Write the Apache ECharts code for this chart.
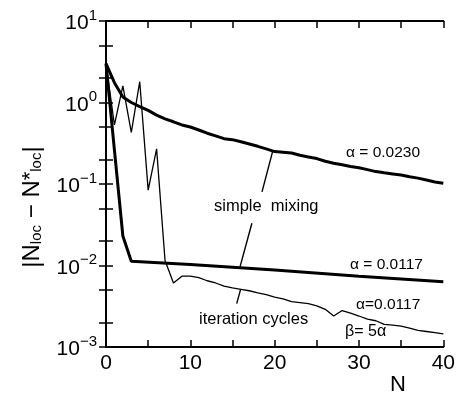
<!DOCTYPE html>
<html>
<head>
<meta charset="utf-8">
<script src="https://cdn.jsdelivr.net/npm/echarts@6/dist/echarts.min.js"></script>
<style>
html, body { margin: 0; padding: 0; background: #fff; }
#main { width: 458px; height: 395px; }
</style>
</head>
<body>
<div id="main"></div>
<script>
// iteration number
const N = [0, 1, 2, 3, 4, 5, 6, 7, 8, 9, 10, 11, 12, 13, 14, 15, 16, 17, 18, 19, 20,
    21, 22, 23, 24, 25, 26, 27, 28, 29, 30, 31, 32, 33, 34, 35, 36, 37, 38, 39, 40];
// simple mixing, alpha = 0.0230
const mixing0230 = [3.0, 1.75, 1.17, 1.0, 0.89, 0.80, 0.70, 0.63, 0.58, 0.53, 0.50,
    0.46, 0.42, 0.39, 0.36, 0.35, 0.33, 0.31, 0.29, 0.27, 0.25,
    0.245, 0.24, 0.225, 0.215, 0.205, 0.19, 0.18, 0.172, 0.164, 0.158,
    0.15, 0.142, 0.137, 0.133, 0.129, 0.123, 0.118, 0.112, 0.106, 0.102];
// simple mixing, alpha = 0.0117 (straight after N = 3)
const mixing0117N = [0, 1, 2, 3, 10, 20, 30, 40];
const mixing0117 = [3.0, 0.26, 0.023, 0.0113, 0.0103, 0.0088, 0.0074, 0.0063];
// iteration cycles, alpha = 0.0117, beta = 5 alpha
const cycles0117 = [3.0, 0.53, 1.6, 0.43, 1.8, 0.084, 0.27, 0.0115, 0.0061, 0.0074, 0.0074,
    0.0071, 0.0065, 0.0061, 0.0056, 0.0053, 0.0051, 0.0049, 0.0046, 0.0044, 0.0041,
    0.0039, 0.0036, 0.0035, 0.0034, 0.0032, 0.0029, 0.0024, 0.0028, 0.0026, 0.0024,
    0.0022, 0.0021, 0.0019, 0.00186, 0.0018, 0.0017, 0.0016, 0.00155, 0.0015, 0.00145];
// axis labels and ticks
const xLabels = [0, 10, 20, 30, 40];
const yLabels = [0.001, 0.01, 0.1, 1, 10];
const yTicks = [0.001, 0.002, 0.005, 0.01, 0.02, 0.05, 0.1, 0.2, 0.5, 1, 2, 5, 10];

const font = 'Liberation Sans';

let myChart = echarts.init(document.getElementById('main'));

let axisLineStyle = { color: '#000', width: 2 };
let tickStyle = { color: '#000', width: 1.5 };

function pair(xs, ys) {
    return xs.map((x, i) => [x, ys[i]]);
}

function expLabel(v) {
    let e = Math.round(Math.log10(v));
    let s = e < 0 ? '\u2212' + (-e) : String(e);
    return '{b|10}{s|' + s + '}';
}

let supRich = {
    b: { fontFamily: font, fontSize: 21, color: '#000', lineHeight: 26, verticalAlign: 'bottom' },
    s: { fontFamily: font, fontSize: 15, color: '#000', lineHeight: 14, verticalAlign: 'top' }
};

let textStyle = (size) => ({ fontFamily: font, fontSize: size, fill: '#000' });

myChart.setOption({
    animation: false,
    grid: { left: 106, right: 12, top: 21, bottom: 48 },
    xAxis: [
        {
            type: 'value', min: 0, max: 40, interval: 5,
            axisLine: { lineStyle: axisLineStyle },
            axisTick: { inside: true, length: 7, lineStyle: tickStyle },
            splitLine: { show: false },
            axisLabel: {
                margin: 6, color: '#000', fontFamily: font, fontSize: 21,
                formatter: (v) => xLabels.indexOf(v) >= 0 ? String(v) : ''
            }
        },
        {
            type: 'value', min: 0, max: 40, interval: 5, position: 'top',
            axisLine: { lineStyle: axisLineStyle },
            axisTick: { inside: true, length: 7, lineStyle: tickStyle },
            splitLine: { show: false },
            axisLabel: { show: false }
        }
    ],
    yAxis: [
        {
            type: 'log', logBase: 10, min: 0.001, max: 10,
            axisLine: { show: true, lineStyle: axisLineStyle },
            axisTick: { show: true, inside: true, length: 7, lineStyle: tickStyle, customValues: yTicks },
            splitLine: { show: false },
            axisLabel: {
                margin: 9, customValues: yLabels,
                formatter: expLabel, rich: supRich
            }
        },
        {
            type: 'log', logBase: 10, min: 0.001, max: 10, position: 'right',
            axisLine: { show: true, lineStyle: axisLineStyle },
            axisTick: { show: true, inside: true, length: 7, lineStyle: tickStyle, customValues: yTicks },
            splitLine: { show: false },
            axisLabel: { show: false }
        }
    ],
    series: [
        {
            name: 'simple mixing α=0.0230',
            type: 'line', symbol: 'none',
            lineStyle: { color: '#000', width: 3 },
            data: pair(N, mixing0230),
            markLine: {
                silent: true, symbol: 'none',
                lineStyle: { color: '#000', width: 1.4, type: 'solid' },
                label: { show: false },
                data: [
                    [{ coord: [18.5, 0.08] }, { coord: [19.8, 0.26] }],
                    [{ coord: [17.3, 0.033] }, { coord: [15.9, 0.0097] }],
                    [{ coord: [15.5, 0.0034] }, { coord: [15.96, 0.0051] }]
                ]
            }
        },
        {
            name: 'simple mixing α=0.0117',
            type: 'line', symbol: 'none',
            lineStyle: { color: '#000', width: 3 },
            data: pair(mixing0117N, mixing0117)
        },
        {
            name: 'iteration cycles',
            type: 'line', symbol: 'none',
            lineStyle: { color: '#000', width: 1.3 },
            data: pair(N, cycles0117)
        }
    ],
    graphic: [
        {
            type: 'text', x: 32, y: 207, rotation: Math.PI / 2,
            style: {
                text: '|N{sub|loc} \u2212 N{sup|*}{sub|loc}|',
                font: '24px "Liberation Sans"', fill: '#000',
                align: 'center', verticalAlign: 'middle',
                rich: {
                    sub: { fontFamily: font, fontSize: 15, fill: '#000', verticalAlign: 'bottom', lineHeight: 14 },
                    sup: { fontFamily: font, fontSize: 22, fill: '#000', verticalAlign: 'top', lineHeight: 14 }
                }
            }
        },
        { type: 'text', x: 346, y: 153, style: Object.assign(textStyle(15.5), { text: 'α = 0.0230', verticalAlign: 'middle' }) },
        { type: 'text', x: 214, y: 206, style: Object.assign(textStyle(16.5), { text: 'simple  mixing', verticalAlign: 'middle' }) },
        { type: 'text', x: 350, y: 265, style: Object.assign(textStyle(15.5), { text: 'α = 0.0117', verticalAlign: 'middle' }) },
        { type: 'text', x: 356, y: 305, style: Object.assign(textStyle(15.5), { text: 'α=0.0117', verticalAlign: 'middle' }) },
        { type: 'text', x: 345, y: 332, style: Object.assign(textStyle(16), { text: 'β= 5α', verticalAlign: 'middle' }) },
        { type: 'text', x: 199, y: 319, style: Object.assign(textStyle(16.5), { text: 'iteration cycles', verticalAlign: 'middle' }) },
        { type: 'text', x: 398, y: 385, style: Object.assign(textStyle(22), { text: 'N', align: 'center', verticalAlign: 'middle' }) }
    ]
});
</script>
</body>
</html>
